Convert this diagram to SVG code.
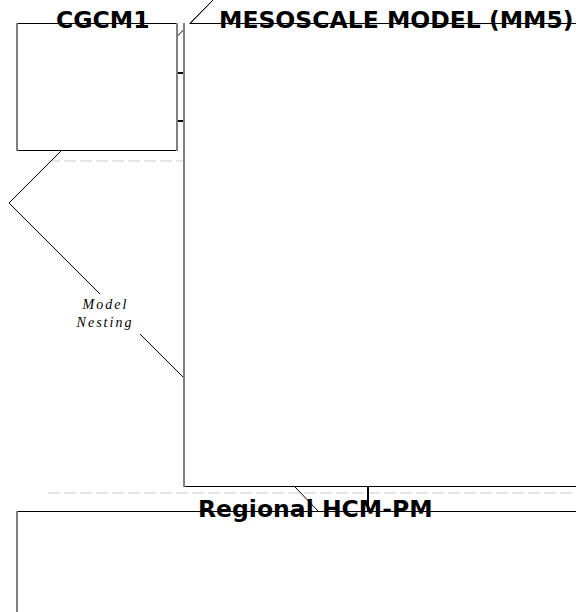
<svg xmlns="http://www.w3.org/2000/svg" width="576" height="612" viewBox="0 0 576 612">
<style>
.bg{fill:#ffffff;stroke:none}
.hz{stroke:#000;stroke-width:1;fill:none}
.vt{stroke:#808080;stroke-width:2;fill:none}
.title{font-family:"DejaVu Sans","Verdana",sans-serif;font-weight:bold;font-size:23.5px;fill:#000}
.lane{stroke:#e6e6e6;stroke-width:2;stroke-dasharray:12 4;fill:none}
.edge{stroke:#000;stroke-width:1;fill:none}
.link{stroke:#000;stroke-width:2;fill:none}
.lbl{font-family:"Liberation Serif","Times New Roman",serif;font-style:italic;font-size:14px;letter-spacing:2px;fill:#000}
</style>
<rect x="0" y="0" width="576" height="612" fill="#ffffff"/>
<g id="lanes">
<line class="lane" x1="48" y1="161" x2="190" y2="161"/>
<line class="lane" x1="48" y1="493" x2="576" y2="493"/>
</g>
<g id="connectors">
<line class="edge" x1="177" y1="36.5" x2="213" y2="0"/>
<polyline class="edge" points="61,151 9,203 100,294"/>
<line class="edge" x1="140" y1="334" x2="185" y2="379"/>
<line class="edge" x1="295" y1="487" x2="318" y2="511"/>
<line class="link" x1="177" y1="73" x2="184" y2="73"/>
<line class="link" x1="177" y1="121" x2="184" y2="121"/>
<line class="link" x1="368" y1="486.5" x2="368" y2="511"/>
<text class="lbl" x="105.5" y="309" text-anchor="middle">Model</text>
<text class="lbl" x="105" y="326.5" text-anchor="middle">Nesting</text>
</g>
<g id="cgcm1">
<rect class="bg" x="17" y="23.5" width="160" height="127"/>
<line class="hz" x1="17" y1="23.5" x2="177" y2="23.5"/>
<line class="hz" x1="17" y1="150.5" x2="177" y2="150.5"/>
<line class="vt" x1="17" y1="23" x2="17" y2="151"/>
<line class="vt" x1="177" y1="23" x2="177" y2="151"/>
<text class="title" x="56" y="27.5">CGCM1</text>
</g>
<g id="mm5">
<rect class="bg" x="184" y="23.5" width="420" height="463"/>
<line class="hz" x1="190" y1="23.5" x2="600" y2="23.5"/>
<line class="hz" x1="184" y1="486.5" x2="600" y2="486.5"/>
<line class="vt" x1="184" y1="23" x2="184" y2="487"/>
<line class="edge" x1="190" y1="23.5" x2="213" y2="0"/>
<text class="title" x="219" y="28.3">MESOSCALE MODEL (MM5)</text>
</g>
<g id="regional">
<rect class="bg" x="17" y="511.5" width="600" height="120"/>
<line class="hz" x1="17" y1="511.5" x2="600" y2="511.5"/>
<line class="vt" x1="17" y1="511" x2="17" y2="640"/>
<line class="edge" x1="316" y1="509" x2="318" y2="511"/>
<text class="title" x="198" y="516.7">Regional HCM-PM</text>
</g>
</svg>
